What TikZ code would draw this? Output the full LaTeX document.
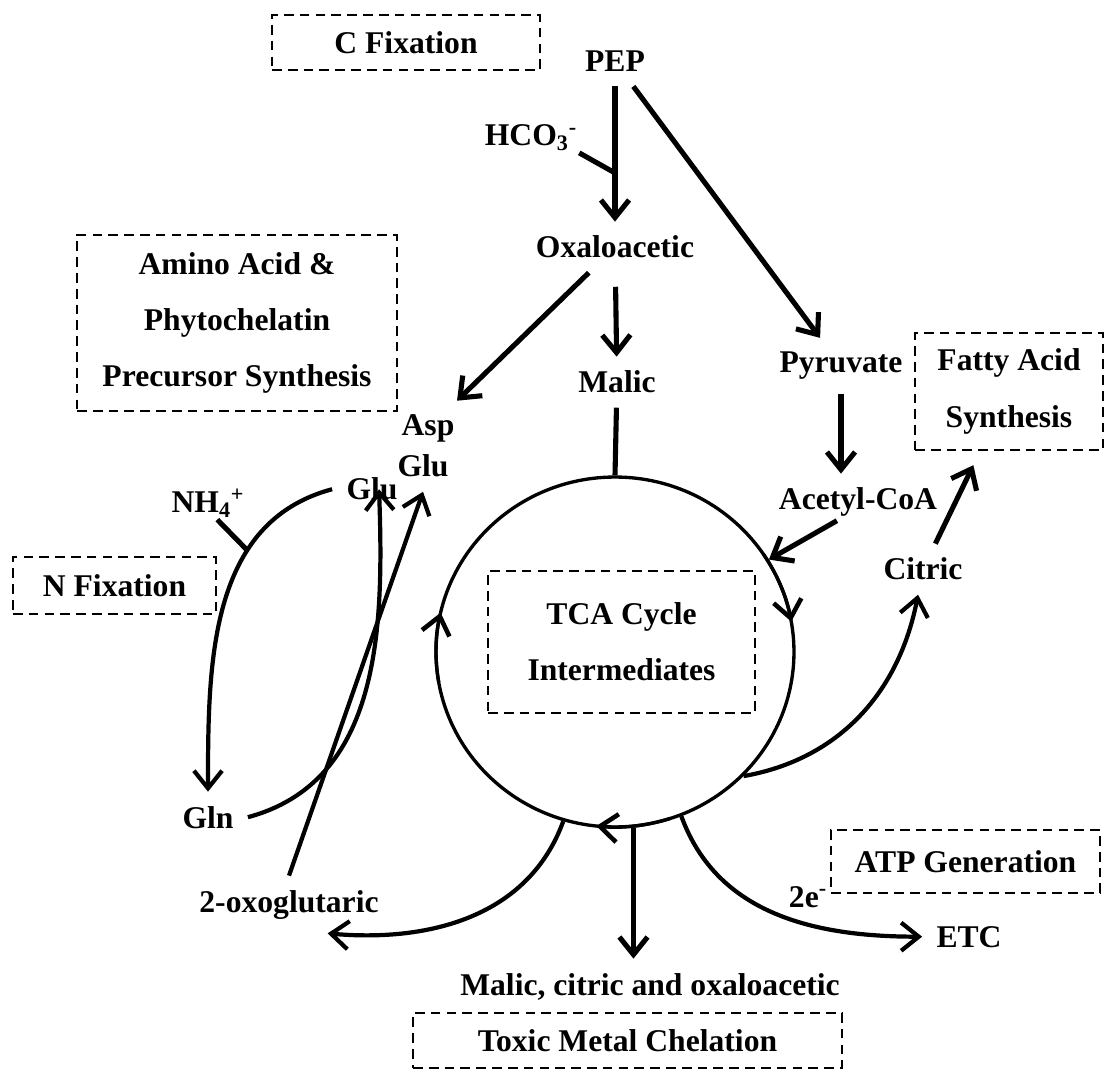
\documentclass[tikz,border=0pt]{standalone}
\usepackage{fontspec}
\setmainfont{Liberation Serif}
\usepackage{tikz}
\usetikzlibrary{arrows.meta,shapes.geometric}

\begin{document}
\begin{tikzpicture}[x=0.02cm, y=-0.02cm,
  lbl/.style={font=\bfseries\fontsize{18}{22}\selectfont, inner sep=8pt},
  sm/.style={lbl, inner sep=1pt},
  dbox/.style={draw, dash pattern=on 5.5pt off 3.5pt, line width=1.1pt,
    align=center, inner sep=0pt, font=\bfseries\fontsize{18}{32}\selectfont},
  arr/.style={line width=2.9pt, -{Straight Barb[length=10pt,width=16pt]}},
  carr/.style={arr, line width=2.4pt},
  cyarr/.style={line width=1.9pt, -{Straight Barb[length=10pt,width=16pt,line width=2.6pt]}},
  stub/.style={line width=2.9pt}]
\useasboundingbox (0,0) rectangle (1105,1070);

% ===== 虚线框 =====
\node[dbox, minimum width=5.36cm, minimum height=1.1cm] (cfix) at (406,42.5) {C Fixation};
\node[dbox, minimum width=6.4cm, minimum height=3.52cm] (amino) at (237,323)
  {Amino Acid \&\\Phytochelatin\\Precursor Synthesis};
\node[dbox, minimum width=3.76cm, minimum height=2.34cm] (fat) at (1009,391.5) {Fatty Acid\\Synthesis};
\node[dbox, minimum width=4.06cm, minimum height=1.14cm] (nfix) at (114.5,585.5) {N Fixation};
\node[dbox, minimum width=5.34cm, minimum height=2.84cm] (tcabox) at (621.5,642) {TCA Cycle\\Intermediates};
\node[dbox, minimum width=5.38cm, minimum height=1.26cm] (atp) at (965.5,861.5) {ATP Generation};
\node[dbox, minimum width=8.58cm, minimum height=1.1cm] (tox) at (627.5,1040.5) {Toxic Metal Chelation};

% ===== TCA 循环 =====
\node[draw, ellipse, line width=1.9pt, minimum width=7.16cm, minimum height=7cm, inner sep=0pt] (cyc) at (615,652) {};
\draw[cyarr] ([shift={(190:3.58cm and 3.5cm)}]cyc.center) arc[start angle=190, end angle=167, x radius=3.58cm, y radius=3.5cm];
\draw[cyarr] ([shift={(34:3.58cm and 3.5cm)}]cyc.center) arc[start angle=34, end angle=10, x radius=3.58cm, y radius=3.5cm];
\draw[cyarr] ([shift={(288:3.58cm and 3.5cm)}]cyc.center) arc[start angle=288, end angle=264, x radius=3.58cm, y radius=3.5cm];

% ===== 代谢物 =====
\node[lbl, anchor=base] (pep) at (615,72) {PEP};
\node[sm, anchor=base] (hco) at (531,146) {HCO\textsubscript{3}\textsuperscript{-}};
\node[lbl, anchor=base] (oxa) at (615,258) {Oxaloacetic};
\node[lbl, anchor=base] (mal) at (617,393) {Malic};
\node[lbl, anchor=base] (pyr) at (841,373) {Pyruvate};
\node[lbl, anchor=base] (act) at (858,510) {Acetyl-CoA};
\node[lbl, anchor=base] (cit) at (923,580) {Citric};
\node[lbl, anchor=base] (asp) at (428,436) {Asp};
\node[lbl, anchor=base] (glua) at (423,477) {Glu};
\node[lbl, anchor=base] (glub) at (372,500) {Glu};
\node[sm, anchor=base] (nh) at (208,513) {NH\textsubscript{4}\textsuperscript{+}};
\node[lbl, anchor=base] (gln) at (208,828) {Gln};
\node[lbl, anchor=base] (oxg) at (289,912) {2-oxoglutaric};
\node[lbl, anchor=base] (mct) at (650,995) {Malic, citric and oxaloacetic};
\node[sm, anchor=base] (twoe) at (808,907) {2e\textsuperscript{-}};
\node[lbl, anchor=base] (etc) at (969,947) {ETC};

% ===== 上部箭头 =====
\draw[arr] (pep) -- coordinate[pos=0.64] (hcoj) (oxa);
\draw[stub] (hco.south east) -- (hcoj);
\draw[arr] (pep) -- (pyr);
\draw[arr] (oxa) -- (asp);
\draw[arr, shorten <=8pt] (oxa) -- (mal);
\draw[stub] (mal) -- (cyc.north);
\draw[arr] (pyr) -- (pyr |- act.north);
\draw[arr] ([shift={(-12pt,6pt)}]act.south) -- (cyc.31);
\draw[arr, shorten >=9pt] (cit) -- (fat);

% ===== 出循环的曲线 =====
\draw[carr] (cyc.-44) to[out=10, in=-101] (cit);
\draw[carr] (cyc.-68) to[out=-70, in=180] (etc);
\draw[arr] (cyc.-84) -- (cyc.-84 |- mct.north);
\draw[carr] (cyc.-107) to[out=-110, in=-5] ([xshift=22pt]oxg.south);

% ===== 氮同化 =====
\draw[carr] (glub.west) to[out=195, in=90] coordinate[pos=0.32] (nhj) (gln);
\draw[stub] (nh.-60) -- (nhj);
\draw[carr] (gln.east) to[out=15, in=-88] ([xshift=4pt]glub.center);
\draw[carr] (oxg.north) -- (glua.south);
\end{tikzpicture}
\end{document}
